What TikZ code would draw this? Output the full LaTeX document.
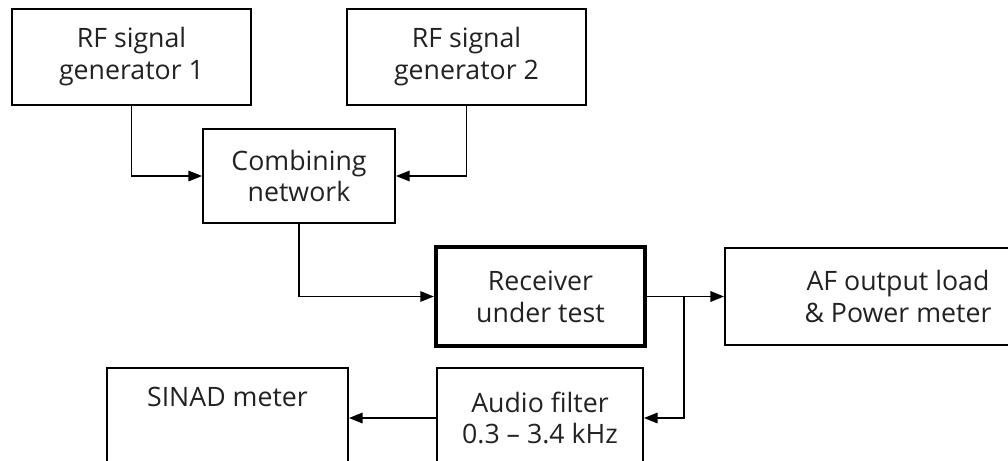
\documentclass[tikz,border=0pt]{standalone}
\usepackage{fontspec}
\setmainfont{Open Sans}
\usepackage{tikz}
\usetikzlibrary{arrows.meta,positioning,calc}
\definecolor{cInk}{HTML}{222222}
\tikzset{
  blk/.style={draw=black,line width=1.3pt,align=center,font=\fontsize{19}{22.7}\selectfont,text=cInk,inner sep=2pt},
  hblk/.style={blk,line width=3pt},
  arr/.style={-{Triangle[length=3.4mm,width=2.6mm]},line width=1.3pt},
}
\begin{document}
\begin{tikzpicture}[x=0.025cm,y=-0.025cm]
  \useasboundingbox (0,0) rectangle (1008,461);
  % sources and combiner
  \node[blk,minimum width=239*0.025cm,minimum height=96*0.025cm] (gen1) at (131.5,57) {RF signal\\generator 1};
  \node[blk,minimum width=239*0.025cm,minimum height=96*0.025cm] (gen2) at (466.5,57) {RF signal\\generator 2};
  \node[blk,minimum width=192*0.025cm,minimum height=94*0.025cm] (comb) at (299,176) {Combining\\network};
  % receiver chain (right and bottom boxes run past the edge)
  \node[hblk,minimum width=209*0.025cm,minimum height=99*0.025cm] (rx) at (540.5,296.5) {Receiver\\under test};
  \node[blk,minimum width=346*0.025cm,minimum height=97*0.025cm] (af) at (898,296.5) {AF output load\\\&\ Power meter};
  \node[blk,minimum width=206*0.025cm,minimum height=100*0.025cm] (filt) at (540,418) {Audio filter\\0.3 -- 3.4 kHz};
  \node[blk,minimum width=241*0.025cm,minimum height=100*0.025cm] (sinad) at (227.5,418) {SINAD meter\\\strut};
  \coordinate (br) at (684,296.5);
  \draw[arr] (gen1) |- (comb);
  \draw[arr] (gen2) |- (comb);
  \draw[arr] (comb) |- (rx);
  \draw[arr] (rx) -- (af);
  \draw[arr] (br) |- (filt);
  \draw[arr] (filt) -- (sinad);
\end{tikzpicture}
\end{document}
